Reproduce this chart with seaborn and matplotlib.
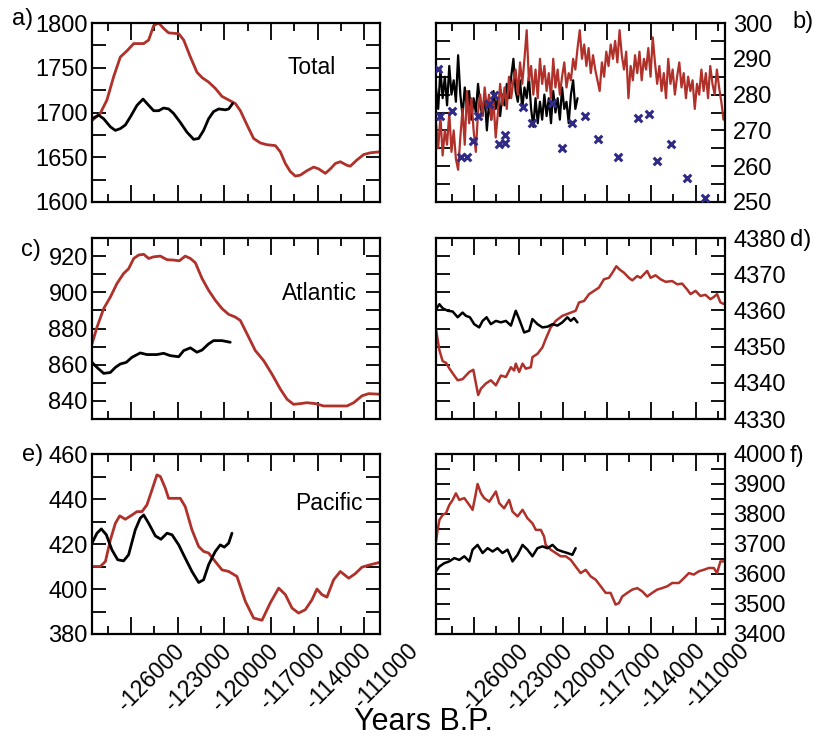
import numpy as np
import matplotlib
matplotlib.use('Agg')
import matplotlib.pyplot as plt
import matplotlib.transforms as mtransforms
import seaborn as sns
from matplotlib.ticker import MultipleLocator

sns.set_theme(style='ticks')
plt.rcParams['font.family'] = ['Liberation Sans', 'DejaVu Sans']
plt.rcParams['axes.unicode_minus'] = False
plt.rcParams['text.color'] = 'black'
plt.rcParams['xtick.color'] = 'black'
plt.rcParams['ytick.color'] = 'black'

RED = '#b0302a'
NAVY = '#2e2a86'

# ---------------------------------------------------------
# data
# ---------------------------------------------------------
# a) Total (left)
total_red_yr = [-128500, -127970, -127540, -127110, -126680, -126250, -125820, -125180, -124860,
                -124540, -124220, -123900, -123580, -122930, -122610, -122180, -121760, -121430,
                -121010, -120580, -120150, -119720, -119290, -118970, -118540, -118120, -117690,
                -117260, -116720, -116400, -116080, -115760, -115440, -115120, -114690, -114260,
                -113940, -113510, -113190, -112870, -112550, -112120, -111910, -111480, -111050,
                -110620, -110040]
total_red = [1691, 1699, 1714, 1740, 1762, 1769, 1777, 1777, 1781, 1797, 1800, 1794, 1789, 1788,
             1781, 1762, 1745, 1739, 1734, 1727, 1718, 1714, 1710, 1702, 1686, 1671, 1666, 1664,
             1663, 1656, 1643, 1634, 1629, 1630, 1635, 1639, 1637, 1632, 1637, 1643, 1645, 1641,
             1640, 1647, 1653, 1655, 1656]
total_blk_yr = [-128500, -128070, -127750, -127320, -127000, -126680, -126360, -126040, -125610,
                -125220, -124860, -124540, -124220, -123900, -123580, -123260, -122830, -122400,
                -121970, -121650, -121330, -121010, -120690, -120360, -119940, -119720, -119470]
total_blk = [1693, 1697, 1693, 1684, 1680, 1682, 1686, 1695, 1708, 1715, 1708, 1702, 1702, 1705,
             1704, 1699, 1689, 1678, 1670, 1671, 1680, 1693, 1701, 1704, 1703, 1704, 1710]

# c) Atlantic (left)
atl_red_yr = [-128500, -128180, -127750, -127320, -126900, -126470, -126150, -125820, -125500,
              -125180, -124860, -124540, -124110, -123680, -123260, -122890, -122510, -122180,
              -121860, -121430, -121010, -120580, -120150, -119720, -119290, -118970, -118540,
              -118010, -117470, -116940, -116400, -115970, -115550, -115120, -114690, -114150,
              -113620, -112980, -112120, -111690, -111160, -110730, -110040]
atl_red = [871.5, 880.7, 891, 897.4, 904.8, 910.4, 913, 918.7, 920.6, 921, 918.7, 919.6, 920,
           918, 917.8, 917.4, 920, 918.7, 916.3, 907.6, 901.1, 895.6, 891, 887.8, 886.3, 884.4,
           877, 867.8, 862.2, 854.8, 846.5, 840.9, 838.1, 838.5, 839, 838.5, 837.2, 837.2, 837.2,
           839, 842.8, 844, 843.7]
atl_blk_yr = [-128500, -128180, -127750, -127320, -127000, -126680, -126300, -125930, -125400,
              -124970, -124330, -123900, -123470, -122930, -122610, -122180, -121760, -121430,
              -121010, -120690, -120150, -119620]
atl_blk = [861.3, 858.5, 855.2, 855.7, 858.5, 860.4, 861.3, 864.1, 866.5, 865.6, 865.6, 866.3,
           865, 864.4, 867.8, 869.3, 866.9, 868.1, 871.5, 873.3, 873.3, 872.4]

# e) Pacific (left)
pac_red_yr = [-128500, -127970, -127640, -127320, -127000, -126720, -126360, -125930, -125610,
              -125290, -124970, -124650, -124330, -124110, -123790, -123580, -123260, -122830,
              -122510, -122080, -121650, -121330, -121010, -120580, -120150, -119720, -119190,
              -118650, -118120, -117580, -117050, -116510, -116080, -115650, -115230, -114800,
              -114370, -114050, -113730, -113410, -112980, -112550, -112010, -111590, -111160,
              -110620, -110040]
pac_red = [410, 410, 412.2, 421.8, 429.2, 432.5, 431, 432.9, 434.4, 434.4, 437.4, 444, 450.7, 450,
           444.8, 440.3, 440.3, 440.3, 436.6, 426.3, 418.9, 416.7, 416, 412.2, 408.5, 407.8, 405.6,
           394.5, 387.1, 386.1, 393.8, 400.4, 397.5, 391.5, 389.3, 390.8, 395.2, 400, 397.5, 396.4,
           404.1, 407.8, 404.8, 406.8, 409.7, 410.8, 411.8]
pac_blk_yr = [-128500, -128180, -127900, -127580, -127220, -126850, -126470, -126150, -125720,
              -125400, -125180, -124860, -124430, -124070, -123680, -123360, -122930, -122510,
              -122080, -121650, -121330, -121010, -120580, -120260, -120000, -119720, -119510]
pac_blk = [420.4, 424.8, 426.7, 424.1, 417.4, 413, 412.5, 415.2, 426.3, 431.5, 432.9, 429.2,
           423.6, 422.1, 424.8, 424.1, 419.6, 413.7, 407.8, 402.9, 404.1, 410.8, 416.7, 419.6,
           418.6, 420.4, 424.8]

# b) Total (right), sampled every 150 years from -128600
b_start, b_step = -128600, 150
b_red = [272, 265, 274, 263, 270, 266, 275, 264, 270, 262, 259,
         268, 276, 266, 281, 272, 279, 270, 264, 275, 280,
         274, 282, 276, 280, 273, 278, 268, 275, 283, 277,
         282, 276, 285, 279, 284, 287, 280, 289, 283, 290,
         298, 284, 288, 280, 287, 279, 290, 283, 288, 281,
         286, 279, 290, 282, 287, 280, 285, 289, 282, 286,
         284, 290, 287, 293, 298, 290, 294, 288, 293, 286,
         291, 287, 284, 281, 289, 285, 292, 288, 294, 290,
         295, 289, 298, 291, 287, 292, 279, 288, 284, 291,
         286, 292, 284, 290, 287, 293, 285, 296, 289, 283,
         288, 281, 286, 279, 290, 283, 287, 280, 285, 289,
         282, 286, 279, 285, 281, 284, 276, 283, 280, 287,
         281, 286, 279, 288, 283, 280, 287, 282, 278, 273]
b_blk = [282, 276, 287, 279, 285, 277, 288, 280, 284, 278, 291,
         280, 274, 282, 276, 281, 273, 279, 275, 283, 277,
         274, 280, 270, 278, 273, 281, 276, 279, 274, 280,
         277, 283, 279, 285, 290, 281, 278, 284, 276, 282,
         279, 285, 276, 271, 279, 272, 278, 273, 280, 274,
         279, 272, 281, 275, 279, 273, 282, 276, 278, 272,
         280, 284, 276, 279]
b_cross_yr = [-128470, -128330, -127520, -126910, -126520, -126120, -125780, -124990, -124650,
              -124360, -123910, -123910, -122690, -122060, -120750, -120070, -119350, -118490,
              -117610, -116280, -114880, -114160, -113580, -112670, -111550, -110370]
b_cross = [287.2, 274, 275.4, 262.6, 262.6, 267, 273.9, 277.3, 279.9, 266.3, 266.5, 268.7, 276.5,
           272.2, 277.7, 265.2, 272.1, 273.9, 267.6, 262.5, 273.4, 274.7, 261.4, 266.3, 256.7, 251.2]

# d) Atlantic (right)
d_red_yr = [-128600, -128490, -128370, -128150, -127920, -127700, -127360, -127130, -126800,
            -126570, -126340, -126070, -125890, -125740, -125550, -125220, -124880, -124540,
            -124200, -123860, -123520, -123300, -123190, -122960, -122730, -122510, -122170,
            -122060, -121720, -121380, -121160, -120820, -120480, -120030, -119580, -119130,
            -118900, -118560, -118220, -117880, -117550, -117210, -116870, -116640, -116370,
            -116150, -115850, -115520, -115290, -114950, -114730, -114280, -114050, -113710,
            -113370, -113030, -112580, -112240, -111910, -111570, -111340, -111000, -110670,
            -110330, -109990, -109760, -109540, -109310, -109090]
d_red = [4354.9, 4352, 4349, 4346, 4345.5, 4344, 4342, 4340.7, 4341, 4342, 4343, 4343.6, 4339.8,
         4336.6, 4338.4, 4339.8, 4340.7, 4339.3, 4342, 4341.6, 4344.3, 4343.4, 4345.3, 4343,
         4345.3, 4343.9, 4344.3, 4347.1, 4348, 4349.8, 4352.1, 4355.3, 4357.1, 4358.5, 4359.2,
         4359.9, 4362.2, 4362.6, 4364.5, 4365.4, 4366.3, 4368.6, 4369, 4370.4, 4372.2, 4371.3,
         4370.4, 4369, 4368.3, 4369.5, 4369, 4370.9, 4369, 4369.7, 4368.6, 4367.9, 4368.1,
         4367.2, 4367.4, 4365.8, 4364.5, 4365.4, 4364, 4364.3, 4363.1, 4363.7, 4364.5, 4362.2,
         4361.8]
d_blk_yr = [-128600, -128370, -128150, -127810, -127470, -127130, -126800, -126570, -126300,
            -126010, -125670, -125440, -125170, -124880, -124540, -124200, -123860, -123520,
            -123190, -122960, -122620, -122280, -122060, -121720, -121380, -121040, -120700,
            -120370, -120030, -119690, -119460, -119240, -119010]
d_blk = [4360.3, 4361.7, 4360.6, 4359.9, 4359.7, 4358.1, 4359.4, 4358.5, 4358.1, 4356.2, 4355.3,
         4357.1, 4358.1, 4356.2, 4357.1, 4356.7, 4357.1, 4355.8, 4359.9, 4357.6, 4353.9, 4354.4,
         4357.6, 4356.2, 4355.3, 4355.5, 4356.2, 4355.8, 4356.7, 4358.1, 4357.1, 4357.9, 4356.7]

# f) Pacific (right)
f_red_yr = [-128600, -128490, -128370, -128150, -127920, -127700, -127470, -127250, -127020,
            -126680, -126340, -126120, -125940, -125780, -125550, -125330, -124990, -124540,
            -124310, -123980, -123640, -123410, -123070, -122730, -122400, -122060, -121830,
            -121490, -121270, -121160, -120820, -120480, -120140, -119800, -119460, -119130,
            -118790, -118450, -118110, -117770, -117430, -117090, -116760, -116420, -116190,
            -115970, -115630, -115290, -114950, -114610, -114280, -113940, -113600, -113260,
            -112920, -112580, -112130, -111790, -111450, -111120, -110780, -110440, -110100,
            -109760, -109540, -109310, -109090]
f_red = [3708, 3747, 3780, 3797, 3803, 3830, 3847, 3869, 3847, 3853, 3830, 3814, 3858, 3900, 3869,
         3853, 3841, 3875, 3836, 3819, 3847, 3808, 3792, 3814, 3786, 3769, 3747, 3747, 3725, 3697,
         3681, 3670, 3659, 3659, 3647, 3625, 3603, 3614, 3592, 3581, 3559, 3537, 3537, 3498, 3503,
         3525, 3537, 3548, 3553, 3542, 3525, 3537, 3548, 3553, 3559, 3570, 3570, 3586, 3603, 3598,
         3609, 3614, 3620, 3620, 3603, 3642, 3642]
f_blk_yr = [-128600, -128370, -128040, -127700, -127360, -127020, -126680, -126340, -126120,
            -125780, -125440, -125100, -124760, -124430, -124090, -123750, -123410, -123070,
            -122730, -122400, -122060, -121720, -121380, -121040, -120700, -120370, -120030,
            -119690, -119350, -119130]
f_blk = [3609, 3625, 3636, 3642, 3653, 3647, 3659, 3642, 3681, 3697, 3670, 3686, 3675, 3686, 3670,
         3681, 3642, 3664, 3697, 3681, 3659, 3686, 3692, 3686, 3697, 3681, 3675, 3670, 3664, 3686]

xticks = [-126000, -123000, -120000, -117000, -114000, -111000]
xticklabels = ['-126000', '-123000', '-120000', '-117000', '-114000', '-111000']

W, H = 814, 741


def fig_rect(x0, y0, x1, y1):
    return [x0 / W, 1 - y1 / H, (x1 - x0) / W, (y1 - y0) / H]


def style_ax(ax, xlim, ylim, ymaj, ymin, right=False, xlabels=False):
    ax.set_xlim(xlim)
    ax.set_ylim(ylim)
    ax.set_xticks(xticks)
    ax.xaxis.set_minor_locator(MultipleLocator(1500))
    ax.yaxis.set_major_locator(MultipleLocator(ymaj))
    ax.yaxis.set_minor_locator(MultipleLocator(ymin))
    ax.tick_params(axis='both', which='both', direction='in', top=True, right=True,
                   width=1.3, colors='black', labelsize=17)
    ax.tick_params(axis='x', which='major', length=12, pad=4)
    ax.tick_params(axis='x', which='minor', length=6)
    ax.tick_params(axis='y', which='both', length=10)
    if right:
        ax.tick_params(axis='y', which='both', labelleft=False, labelright=True, pad=6)
    else:
        ax.tick_params(axis='y', which='both', pad=3)
    if xlabels:
        labs = ax.set_xticklabels(xticklabels, rotation=45, ha='right', va='top',
                                  rotation_mode='anchor', fontsize=16.5)
        # labels sit to the right of their ticks, as in the original figure
        shift = mtransforms.ScaledTranslation(0.42, 0, ax.figure.dpi_scale_trans)
        for lab in labs:
            lab.set_transform(lab.get_transform() + shift)
    else:
        ax.set_xticklabels([])
    for s in ax.spines.values():
        s.set_linewidth(1.6)
        s.set_color('black')
    ax.set_xlabel('')
    ax.set_ylabel('')


def line(ax, x, y, color, lw=2.0):
    sns.lineplot(x=x, y=y, ax=ax, color=color, lw=lw, estimator=None, sort=False)


fig = plt.figure(figsize=(W / 100, H / 100), dpi=100)

ax_a = fig.add_axes(fig_rect(92, 23, 380, 202))
ax_b = fig.add_axes(fig_rect(436, 23, 725, 202))
ax_c = fig.add_axes(fig_rect(92, 238, 380, 419))
ax_d = fig.add_axes(fig_rect(436, 238, 725, 419))
ax_e = fig.add_axes(fig_rect(92, 454, 380, 634))
ax_f = fig.add_axes(fig_rect(436, 454, 725, 634))

left_lim = (-128500, -110000)
right_lim = (-128600, -109000)

# a)
line(ax_a, total_red_yr, total_red, RED)
line(ax_a, total_blk_yr, total_blk, 'black')
style_ax(ax_a, left_lim, (1600, 1800), 50, 25)

# b)
b_red_yr = np.arange(len(b_red)) * b_step + b_start
b_blk_yr = np.arange(len(b_blk)) * b_step + b_start
line(ax_b, b_blk_yr, b_blk, 'black', lw=1.6)
line(ax_b, b_red_yr, b_red, RED, lw=1.6)
sns.scatterplot(x=b_cross_yr, y=b_cross, ax=ax_b, marker='x', color=NAVY, s=30,
                linewidth=2.2, zorder=5)
style_ax(ax_b, right_lim, (250, 300), 10, 5, right=True)

# c)
line(ax_c, atl_red_yr, atl_red, RED)
line(ax_c, atl_blk_yr, atl_blk, 'black')
style_ax(ax_c, left_lim, (830, 930), 20, 10)

# d)
line(ax_d, d_red_yr, d_red, RED, lw=1.8)
line(ax_d, d_blk_yr, d_blk, 'black', lw=1.8)
style_ax(ax_d, right_lim, (4330, 4380), 10, 5, right=True)

# e)
line(ax_e, pac_red_yr, pac_red, RED)
line(ax_e, pac_blk_yr, pac_blk, 'black')
style_ax(ax_e, left_lim, (380, 460), 20, 10, xlabels=True)

# f)
line(ax_f, f_red_yr, f_red, RED, lw=1.8)
line(ax_f, f_blk_yr, f_blk, 'black', lw=1.8)
style_ax(ax_f, right_lim, (3400, 4000), 100, 50, right=True, xlabels=True)

# basin names
fig.text(287 / W, 1 - 67 / H, 'Total', fontsize=16.5, va='center', ha='left')
fig.text(282 / W, 1 - 294 / H, 'Atlantic', fontsize=16.5, va='center', ha='left')
fig.text(295 / W, 1 - 504 / H, 'Pacific', fontsize=16.5, va='center', ha='left')

# panel letters
for lab, px, py in [('a)', 12, 19), ('c)', 21, 250), ('e)', 22, 455),
                    ('b)', 792, 22), ('d)', 790, 240), ('f)', 790, 456)]:
    fig.text(px / W, 1 - py / H, lab, fontsize=17, va='center', ha='left')

fig.text(423 / W, 1 - 722 / H, 'Years B.P.', fontsize=22, va='center', ha='center')

fig.savefig('out.png', dpi=100)
